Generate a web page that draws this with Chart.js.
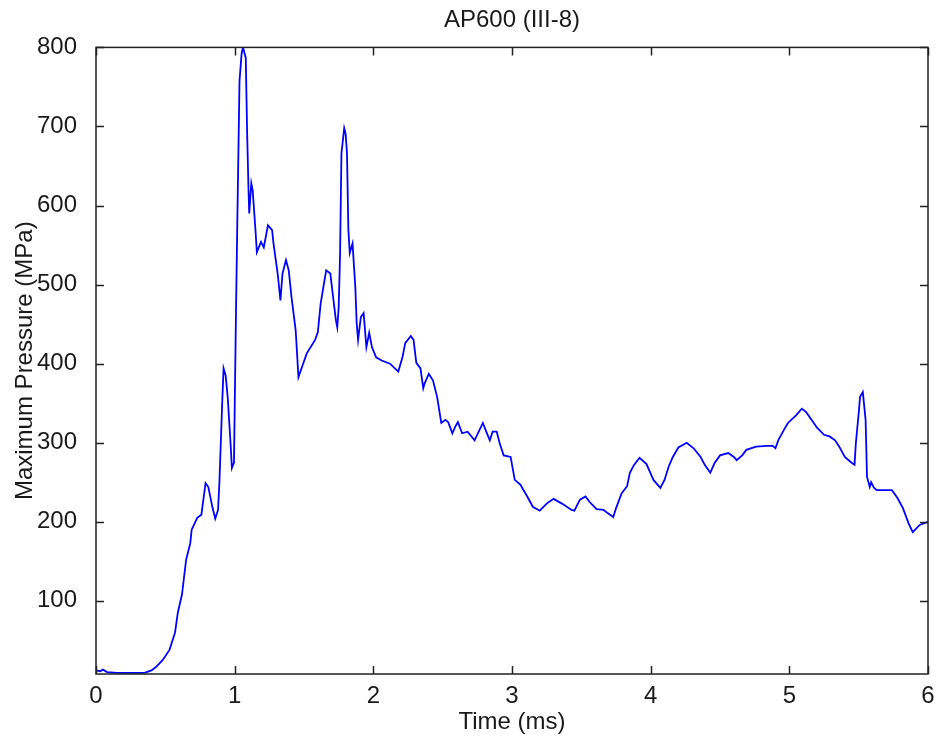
<!DOCTYPE html>
<html>
<head>
<meta charset="utf-8">
<title>AP600 (III-8)</title>
<script src="https://cdn.jsdelivr.net/npm/chart.js@4.4.0/dist/chart.umd.min.js"></script>
<style>
  html, body { margin: 0; padding: 0; background: #fff; }
  #wrap { width: 938px; height: 745px; }
</style>
</head>
<body>
<div id="wrap"><canvas id="grafico" width="938" height="745"></canvas></div>
<script>
// =============================
// DADOS
// =============================
const tempoMs = [
  0.00, 0.03, 0.05, 0.08, 0.15, 0.25, 0.35, 0.40, 0.43, 0.48,
  0.53, 0.57, 0.59, 0.62, 0.65, 0.68, 0.69, 0.73, 0.76, 0.79,
  0.81, 0.84, 0.86, 0.88, 0.89, 0.91, 0.92, 0.935, 0.95, 0.97,
  0.98, 0.995, 1.01, 1.02, 1.035, 1.05, 1.06, 1.08, 1.09, 1.10,
  1.105, 1.12, 1.13, 1.15, 1.16, 1.19, 1.21, 1.24, 1.27, 1.28,
  1.31, 1.33, 1.345, 1.37, 1.39, 1.41, 1.44, 1.46, 1.49, 1.52,
  1.58, 1.60, 1.62, 1.64, 1.66, 1.69, 1.71, 1.73, 1.74, 1.75,
  1.76, 1.77, 1.79, 1.80, 1.81, 1.82, 1.83, 1.85, 1.87, 1.88,
  1.89, 1.91, 1.93, 1.95, 1.97, 1.99, 2.02, 2.06, 2.12, 2.18,
  2.21, 2.23, 2.27, 2.29, 2.31, 2.34, 2.36, 2.37, 2.40, 2.43,
  2.46, 2.49, 2.52, 2.54, 2.57, 2.59, 2.61, 2.64, 2.68, 2.73,
  2.76, 2.79, 2.81, 2.84, 2.86, 2.89, 2.91, 2.94, 2.99, 3.02,
  3.06, 3.11, 3.15, 3.20, 3.25, 3.30, 3.36, 3.43, 3.45, 3.49,
  3.53, 3.56, 3.61, 3.66, 3.69, 3.73, 3.75, 3.79, 3.83, 3.85,
  3.88, 3.92, 3.97, 4.02, 4.07, 4.10, 4.13, 4.16, 4.20, 4.26,
  4.31, 4.36, 4.39, 4.43, 4.46, 4.50, 4.56, 4.60, 4.62, 4.66,
  4.69, 4.76, 4.84, 4.88, 4.90, 4.92, 4.96, 4.99, 5.05, 5.09,
  5.12, 5.16, 5.20, 5.25, 5.29, 5.33, 5.36, 5.40, 5.44, 5.47,
  5.48, 5.50, 5.51, 5.53, 5.55, 5.56, 5.58, 5.59, 5.61, 5.63,
  5.69, 5.74, 5.78, 5.82, 5.86, 5.89, 5.94, 6.00
];

const pressaoMPa = [
  12, 11, 13, 10, 9, 9, 9, 12, 16, 25,
  38, 60, 85, 108, 152, 173, 190, 205, 209, 249,
  244, 218, 204, 215, 250, 350, 394, 385, 357, 300,
  268, 275, 471, 590, 758, 792, 800, 787, 691, 619,
  590, 628, 619, 569, 541, 554, 547, 575, 569, 552,
  514, 480, 514, 531, 518, 484, 442, 383, 398, 413,
  430, 440, 476, 497, 518, 514, 484, 455, 446, 471,
  537, 666, 698, 691, 666, 569, 540, 552, 497, 451,
  430, 459, 464, 421, 439, 421, 408, 404, 400, 390,
  408, 426, 435, 430, 401, 394, 369, 375, 387, 379,
  358, 325, 329, 326, 312, 320, 326, 312, 314, 303,
  314, 325, 316, 303, 314, 314, 300, 284, 282, 253,
  247, 232, 219, 214, 223, 229, 223, 215, 214, 228,
  232, 225, 216, 215, 211, 206, 217, 236, 245, 262,
  272, 281, 273, 253, 243, 253, 270, 282, 294, 300,
  293, 282, 272, 262, 274, 284, 287, 282, 278, 284,
  291, 295, 296, 296, 293, 303, 316, 325, 335, 343,
  339, 329, 319, 310, 308, 303, 295, 282, 276, 272,
  300, 337, 358, 364, 329, 257, 244, 250, 243, 240,
  240, 240, 230, 217, 198, 187, 196, 200
];

const ticksX = [0, 1, 2, 3, 4, 5, 6];
const ticksY = [100, 200, 300, 400, 500, 600, 700, 800];

const pontos = tempoMs.map((t, i) => ({ x: t, y: pressaoMPa[i] }));

// =============================
// ESTILO
// =============================
const fonte = { family: "'Liberation Sans', Arial, sans-serif", size: 24 };
const corTexto = "#1a1a1a";
const corEixo = "#222";
const TAM_TICK = 8;

// título centrado sobre a área do gráfico, não sobre o canvas todo
const tituloNaArea = {
  id: "tituloNaArea",
  beforeDraw(chart) {
    const bloco = chart.titleBlock;
    if (!bloco) return;
    bloco.left = chart.chartArea.left;
    bloco.right = chart.chartArea.right;
  }
};

// caixa em volta da área do gráfico + ticks para dentro nos 4 lados
const caixaEixos = {
  id: "caixaEixos",
  afterDatasetsDraw(chart) {
    const { ctx, chartArea: a, scales } = chart;
    ctx.save();
    ctx.strokeStyle = corEixo;
    ctx.lineWidth = 1.5;
    ctx.strokeRect(a.left, a.top, a.right - a.left, a.bottom - a.top);

    ctx.beginPath();
    ticksX.forEach(v => {
      const px = Math.round(scales.x.getPixelForValue(v)) + 0.5;
      ctx.moveTo(px, a.bottom);
      ctx.lineTo(px, a.bottom - TAM_TICK);
      ctx.moveTo(px, a.top);
      ctx.lineTo(px, a.top + TAM_TICK);
    });
    ticksY.forEach(v => {
      const py = Math.round(scales.y.getPixelForValue(v)) + 0.5;
      ctx.moveTo(a.left, py);
      ctx.lineTo(a.left + TAM_TICK, py);
      ctx.moveTo(a.right, py);
      ctx.lineTo(a.right - TAM_TICK, py);
    });
    ctx.stroke();
    ctx.restore();
  }
};

// =============================
// GRÁFICO
// =============================
const ctx = document.getElementById("grafico").getContext("2d");

new Chart(ctx, {
  type: "line",
  data: {
    datasets: [{
      data: pontos,
      borderColor: "#0000ff",
      borderWidth: 1.8,
      pointRadius: 0,
      tension: 0,
      fill: false
    }]
  },
  options: {
    responsive: false,
    animation: false,
    layout: { padding: { left: 0, right: 10, top: 0, bottom: 0 } },
    plugins: {
      legend: { display: false },
      tooltip: { enabled: false },
      title: {
        display: true,
        text: "AP600 (III-8)",
        color: corTexto,
        font: { ...fonte, weight: "normal" },
        padding: { top: 6, bottom: 12.6 }
      }
    },
    scales: {
      x: {
        type: "linear",
        min: 0,
        max: 6,
        grid: { display: false },
        border: { display: false },
        afterBuildTicks: (scale) => { scale.ticks = ticksX.map(v => ({ value: v })); },
        afterFit: (scale) => {
          scale.height = 71;
          // sem margem extra para o rótulo "6" da ponta
          scale.paddingLeft = 0;
          scale.paddingRight = 0;
        },
        ticks: { color: corTexto, font: fonte, padding: 0, maxRotation: 0 },
        title: {
          display: true,
          text: "Time (ms)",
          color: corTexto,
          font: fonte,
          padding: { top: 0, bottom: 8.6 }
        }
      },
      y: {
        type: "linear",
        min: 7.5,
        max: 800,
        grid: { display: false },
        border: { display: false },
        afterBuildTicks: (scale) => { scale.ticks = ticksY.map(v => ({ value: v })); },
        afterFit: (scale) => {
          scale.width = 96;
          scale.paddingTop = 0;
          scale.paddingBottom = 0;
        },
        ticks: { color: corTexto, font: fonte, padding: 11 },
        title: {
          display: true,
          text: "Maximum Pressure (MPa)",
          color: corTexto,
          font: fonte,
          padding: { top: 10.6, bottom: 0 }
        }
      }
    }
  },
  plugins: [tituloNaArea, caixaEixos]
});
</script>
</body>
</html>
